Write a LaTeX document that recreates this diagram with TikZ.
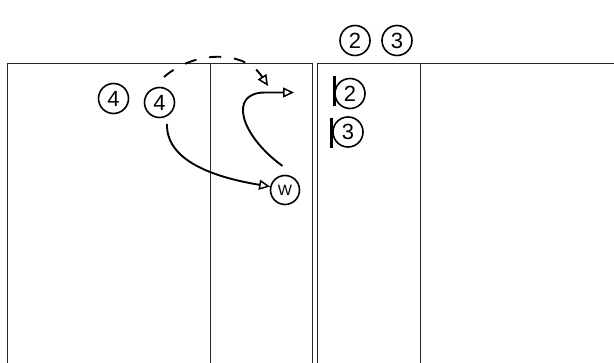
\documentclass[tikz,border=0pt]{standalone}
\usepackage{fontspec}
\setmainfont{Liberation Sans}
\usetikzlibrary{arrows.meta}
\begin{document}
\begin{tikzpicture}[x=1pt,y=-1pt,
  court/.style={draw=black!85,line width=1pt},
  player/.style={circle,draw,line width=1.6pt,minimum size=30pt,inner sep=0pt,font=\fontsize{22}{22}\selectfont},
  wplayer/.style={circle,draw,line width=1.6pt,minimum size=29pt,inner sep=0pt,font=\fontsize{15}{15}\selectfont},
  move/.style={line width=1.9pt,-{Triangle[open,length=11pt,width=10pt,line width=1.5pt]}},
  pass/.style={move,dash pattern=on 12pt off 13pt},
  bar/.style={line width=3pt}]
\useasboundingbox (0,0) rectangle (614,363);
% courts
\draw[court] (7,363) -- (7,64) -- (312,64) -- (312,363);
\draw[court] (210,64) -- (210,363);
\draw[court] (317.5,363) -- (317.5,64) -- (614,64);
\draw[court] (420,64) -- (420,363);
% players
\node[player] (t2) at (355,40.5) {2};
\node[player] (t3) at (397,40.5) {3};
\node[player] (i2) at (350,93.5) {2};
\node[player] (i3) at (348,132) {3};
\node[player] (f4a) at (113.5,98.5) {4};
\node[player] (f4b) at (159.5,102.5) {4};
\node[wplayer] (w) at (285,190) {W};
% bars
\coordinate (b2t) at (334,76.5);
\coordinate (b2b) at (334,106);
\coordinate (b3t) at (331.5,118);
\coordinate (b3b) at (331.5,148.5);
\draw[bar] (b2t) -- (b2b);
\draw[bar] (b3t) -- (b3b);
% movements
\coordinate (m1s) at (167,124);
\draw[move] (m1s) .. controls (166,160) and (212,177) .. (w.167);
\coordinate (m2s) at (282.5,166);
\coordinate (m2e) at (294,92.5);
\draw[move] (m2s) .. controls (240,135) and (228,92.5) .. (265,92.5) -- (m2e);
\coordinate (ds) at (164,77);
\coordinate (de) at (268,86);
\draw[pass] (ds) .. controls (195,50) and (245,50) .. (de);
\end{tikzpicture}
\end{document}
